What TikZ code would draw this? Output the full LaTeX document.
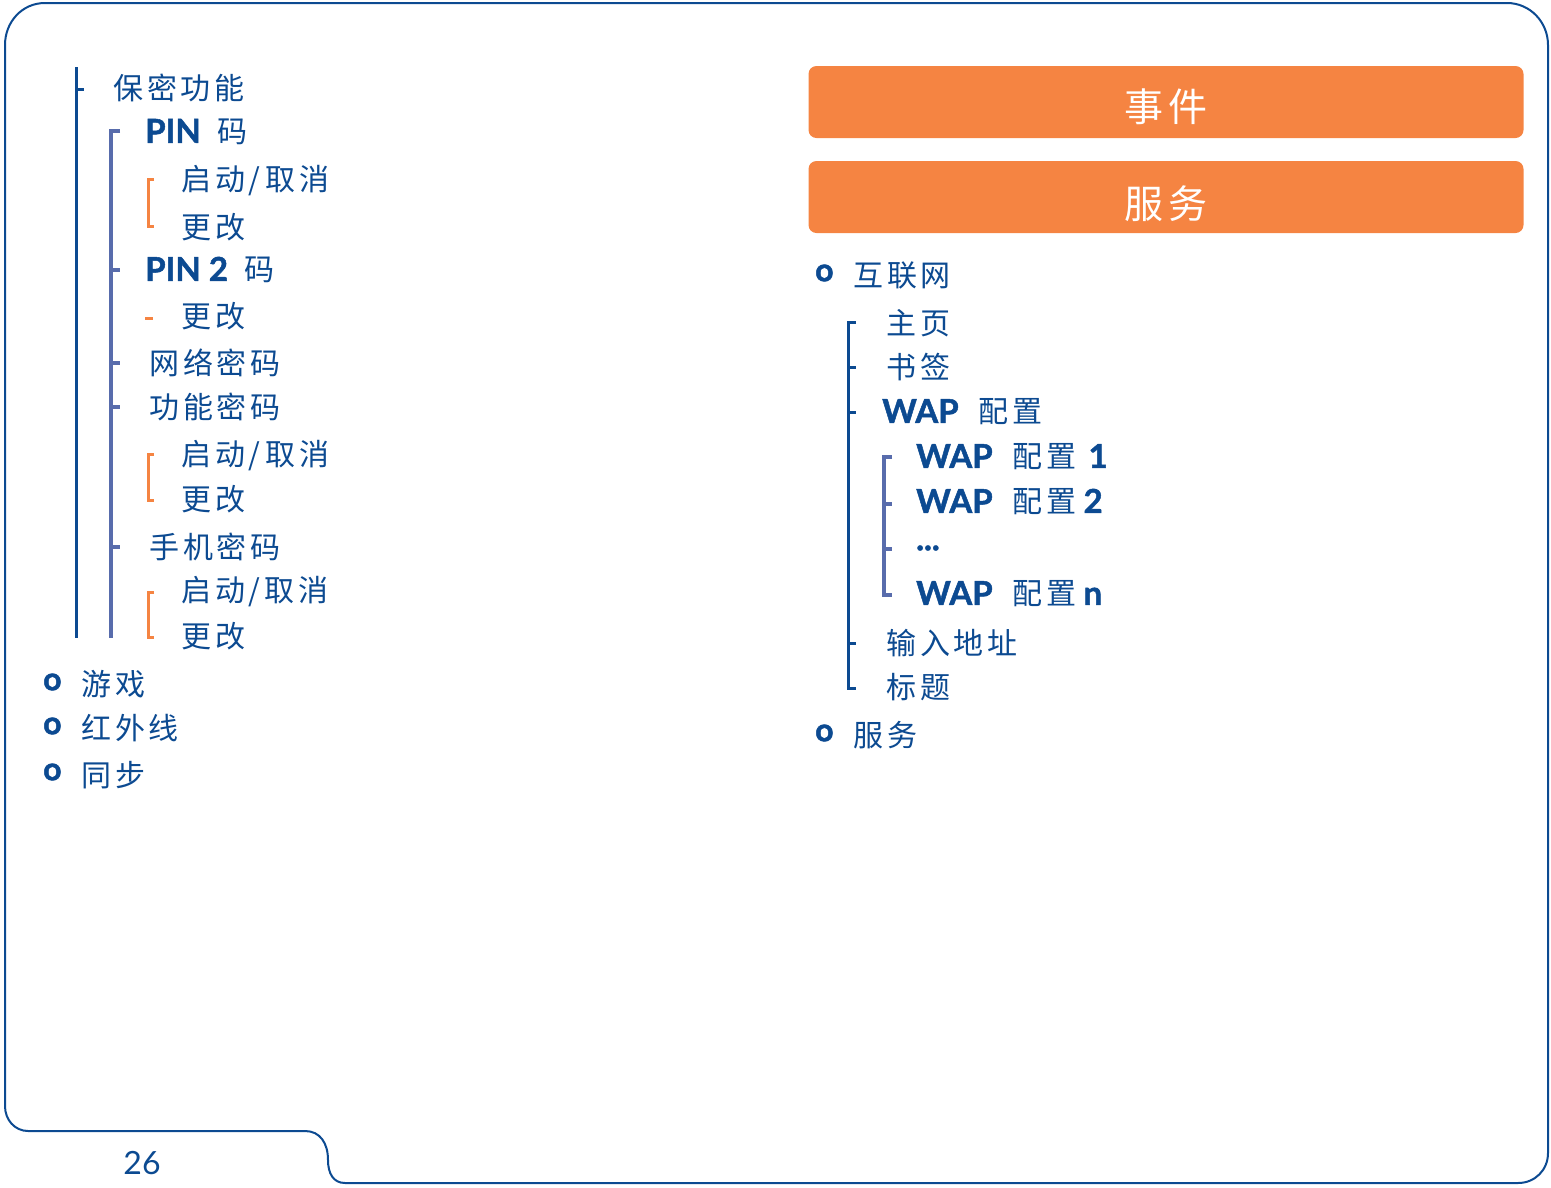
\documentclass[tikz,border=0pt]{standalone}
\usepackage{fontspec}
\setmainfont{Lato}
\newfontfamily\cjk{Noto Sans CJK SC}[LetterSpace=13]
\newfontfamily\heavy{Lato}[BoldFeatures={FakeBold=1.5}]
\definecolor{dblue}{RGB}{12,74,145}
\definecolor{lblue}{RGB}{88,108,172}
\definecolor{orng}{RGB}{245,132,66}
\newcommand\lb[1]{{\fontsize{33}{34}\selectfont\heavy\bfseries #1}}
\begin{document}
\begin{tikzpicture}[x=1pt,y=-1pt,
  txt/.style={anchor=west, inner sep=0pt, text=dblue, font=\fontsize{30}{34}\selectfont\cjk},
  bul/.style={anchor=west, inner sep=0pt, text=dblue, font=\fontsize{32}{34}\selectfont\heavy\bfseries},
  obox/.style={fill=orng, rounded corners=8pt, minimum width=715pt, minimum height=72pt, inner sep=0pt},
  otxt/.style={inner sep=0pt, text=white, font=\fontsize{39}{40}\selectfont\cjk},
  frame/.style={draw=dblue, line width=2pt},
  dbar/.style={draw=dblue, line width=3pt},
  lbar/.style={draw=lblue, line width=3.5pt},
  obar/.style={draw=orng, line width=3pt}]
\useasboundingbox (0,0) rectangle (1551,1187);
% frame
\draw[frame] (305,1131) -- (28,1131) .. controls (15,1131) and (5,1120) .. (5,1106)
  -- (5,45) .. controls (5,22) and (22,3) .. (45,3) -- (1507,3)
  .. controls (1530,3) and (1548,22) .. (1548,45) -- (1548,1153)
  .. controls (1548,1170) and (1535,1183) .. (1518,1183) -- (345,1183)
  .. controls (333,1183) and (328,1173) .. (328,1160)
  .. controls (328,1143) and (320,1131) .. (305,1131) -- cycle;
% orange headers
\node[obox] (evbox) at (1166,102) {};
\node[otxt] (ev) at (1166,107) {事件};
\node[obox] (svbox) at (1166,197) {};
\node[otxt] (sv) at (1166,204) {服务};
% left tree
\node[txt] (s0) at (113,88) {保密功能};
\node[txt] (s1) at (145,132) {\lb{PIN}\hspace{17pt}码};
\node[txt] (s11) at (181,181) {启动/\hspace{5pt}取消};
\node[txt] (s12) at (181,227) {更改};
\node[txt] (s2) at (145,270) {\lb{PIN 2}\hspace{17pt}码};
\node[txt] (s21) at (181,316) {更改};
\node[txt] (s3) at (149,363) {网络密码};
\node[txt] (s4) at (149,407) {功能密码};
\node[txt] (s41) at (181,456) {启动/\hspace{5pt}取消};
\node[txt] (s42) at (181,499) {更改};
\node[txt] (s5) at (149,547) {手机密码};
\node[txt] (s51) at (181,592) {启动/取消};
\node[txt] (s52) at (181,636) {更改};
\node[bul] (b1) at (43,682) {o};
\node[txt] (g1) at (81,684) {游戏};
\node[bul] (b2) at (43,726) {o};
\node[txt] (g2) at (81,728) {红外线};
\node[bul] (b3) at (43,772) {o};
\node[txt] (g3) at (81,775) {同步};
% left bars
\coordinate (L0t) at (76,67); \coordinate (L0b) at (76,638);
\draw[dbar] (L0t) -- (L0b);
\draw[dbar] (76,89) -- (84,89);
\draw[lbar] (120,131) -- (111,131) -- (111,638);
\foreach \yy in {270,363,407,547} \draw[lbar] (111,\yy) -- (120,\yy);
\draw[obar] (154,179) -- (148,179) -- (148,226) -- (154,226);
\draw[obar] (145,318) -- (153,318);
\draw[obar] (154,454) -- (148,454) -- (148,500) -- (154,500);
\draw[obar] (154,592) -- (148,592) -- (148,637) -- (154,637);
% right tree
\node[bul] (b4) at (815,273) {o};
\node[txt] (i0) at (853,275) {互联网};
\node[txt] (i1) at (886,323) {主页};
\node[txt] (i2) at (886,367) {书签};
\node[txt] (i3) at (882,412) {\lb{WAP}\hspace{20pt}配置};
\node[txt] (w1) at (916,457) {\lb{WAP}\hspace{20pt}配置\hspace{12pt}\lb{1}};
\node[txt] (w2) at (916,502) {\lb{WAP}\hspace{20pt}配置\hspace{7pt}\lb{2}};
\node[txt] (w3) at (916,548) {\lb{...}};
\node[txt] (w4) at (916,594) {\lb{WAP}\hspace{20pt}配置\hspace{7pt}\lb{n}};
\node[txt] (i4) at (886,643) {输入地址};
\node[txt] (i5) at (886,687) {标题};
\node[bul] (b5) at (815,733) {o};
\node[txt] (i6) at (853,735) {服务};
% right bars
\draw[dbar] (856,322) -- (848,322) -- (848,688) -- (856,688);
\foreach \yy in {367,412,643} \draw[dbar] (848,\yy) -- (856,\yy);
\draw[lbar] (892,457) -- (884,457) -- (884,595) -- (892,595);
\foreach \yy in {504,549} \draw[lbar] (884,\yy) -- (892,\yy);
% page number
\node[text=dblue, font=\fontsize{32}{36}\selectfont, inner sep=0pt] (pg) at (142,1163) {26};
\end{tikzpicture}
\end{document}
